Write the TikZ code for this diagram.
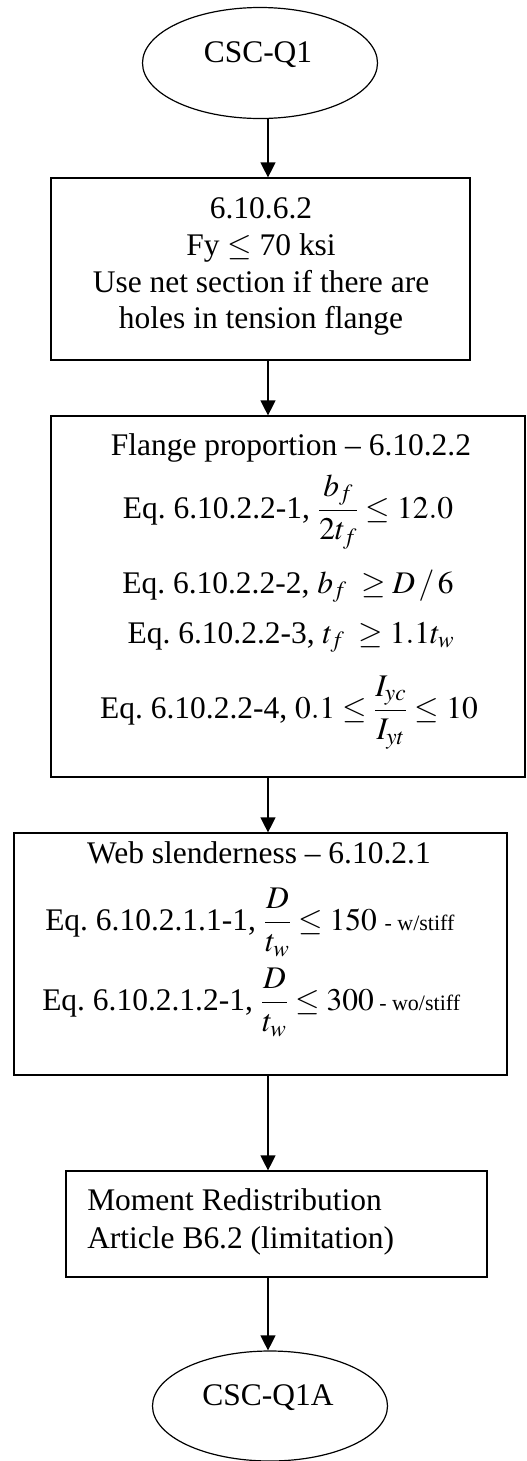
\documentclass[tikz,border=0pt]{standalone}
\usepackage{amsmath}
\usepackage{mathptmx}
\usepackage[no-math]{fontspec}
\setmainfont{Liberation Serif}
\usetikzlibrary{shapes.geometric,arrows.meta}
\frenchspacing
\tikzset{
  px/.style={x=0.75pt,y=-0.75pt},
  ln/.style={line width=0.9pt},
  term/.style={ellipse,draw,ln,inner sep=0pt},
  procbox/.style={rectangle,draw,ln,inner sep=0pt},
  txt/.style={anchor=base,inner sep=0pt,font=\fontsize{23.6}{28}\selectfont},
  txtl/.style={anchor=base west,inner sep=0pt,font=\fontsize{23.6}{28}\selectfont},
  arr/.style={ln,-{Triangle[width=11.25pt,length=11.25pt]}},
}
\newcommand{\smallnote}[1]{{\fontsize{16.5}{19}\selectfont #1}}
\begin{document}
\begin{tikzpicture}[px]
\useasboundingbox (0,0) rectangle (527,1461);
% nodes
\node[term,minimum width=235*0.75pt,minimum height=111*0.75pt] (e1) at (260,63) {};
\node[procbox,minimum width=419*0.75pt,minimum height=182*0.75pt] (b1) at (260.5,269) {};
\node[procbox,minimum width=474*0.75pt,minimum height=361*0.75pt] (b2) at (288,596.5) {};
\node[procbox,minimum width=493*0.75pt,minimum height=242*0.75pt] (b3) at (260.5,954) {};
\node[procbox,minimum width=421*0.75pt,minimum height=106*0.75pt] (b4) at (276.5,1224) {};
\node[term,minimum width=235*0.75pt,minimum height=110*0.75pt] (e2) at (270,1406) {};
% texts
\node[txt] (t0) at (258,62) {CSC-Q1};
\node[txt] (t1a) at (261,218) {6.10.6.2};
\node[txt] (t1b) at (261,255) {Fy $\le$ 70 ksi};
\node[txt] (t1c) at (261,292) {Use net section if there are};
\node[txt] (t1d) at (261,328) {holes in tension flange};
\node[txt] (t2a) at (291,455) {Flange proportion -- 6.10.2.2};
\node[txt] (t2b) at (288,518) {Eq. 6.10.2.2-1, $\dfrac{b_f}{2t_f}\le 12.0$};
\node[txt] (t2c) at (288,593) {Eq. 6.10.2.2-2, $b_f\;\ge D\,/\,6$};
\node[txt] (t2d) at (291,643) {Eq. 6.10.2.2-3, $t_f\;\ge 1.1t_w$};
\node[txt] (t2e) at (289,718) {Eq. 6.10.2.2-4, $0.1\le\dfrac{I_{yc}}{I_{yt}}\le 10$};
\node[txt] (t3a) at (259,863) {Web slenderness -- 6.10.2.1};
\node[txtl] (t3b) at (45,930) {Eq. 6.10.2.1.1-1, $\dfrac{D}{t_w}\le 150$ \smallnote{- w/stiff}};
\node[txtl] (t3c) at (42,1010) {Eq. 6.10.2.1.2-1, $\dfrac{D}{t_w}\le 300$\smallnote{ - wo/stiff}};
\node[txtl] (t4a) at (87,1210) {Moment Redistribution};
\node[txtl] (t4b) at (87,1248) {Article B6.2 (limitation)};
\node[txt] (t5) at (268,1405) {CSC-Q1A};
% connectors
\coordinate (ax) at (268,0);
\draw[arr] (e1.south -| ax) -- (b1.north -| ax);
\draw[arr] (b1.south -| ax) -- (b2.north -| ax);
\draw[arr] (b2.south -| ax) -- (b3.north -| ax);
\draw[arr] (b3.south -| ax) -- (b4.north -| ax);
\draw[arr] (b4.south -| ax) -- (e2.north -| ax);
\end{tikzpicture}
\end{document}
